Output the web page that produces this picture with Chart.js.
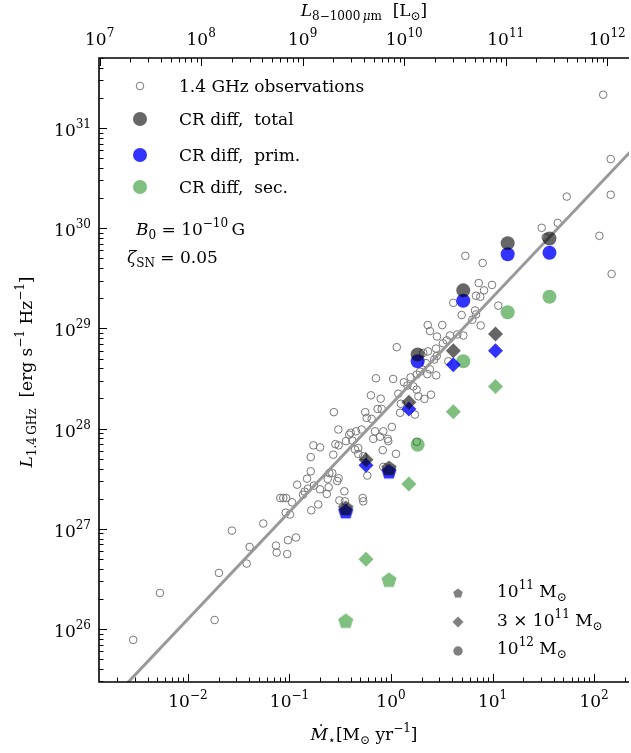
<!DOCTYPE html>
<html>
<head>
<meta charset="utf-8">
<script src="https://cdn.jsdelivr.net/npm/chart.js@4.4.1/dist/chart.umd.min.js"></script>
<style>
  html, body { margin: 0; padding: 0; background: #fff; }
  #wrap { width: 631px; height: 753px; position: relative; }
</style>
</head>
<body>
<div id="wrap"><canvas id="radioChart"></canvas></div>
<script>
// observed galaxies: SFR [Msun/yr] and L_1.4GHz [erg/s/Hz]
const obsSfr = [
  0.00289, 0.0053, 0.0183, 0.0202, 0.0271, 0.0379, 0.0405, 0.0552, 0.0736, 0.0748,
  0.0812, 0.0869, 0.0929, 0.0951, 0.0967, 0.0918, 0.101, 0.106, 0.116, 0.119,
  0.136, 0.141, 0.149, 0.152, 0.162, 0.162, 0.164, 0.172, 0.174, 0.192,
  0.200, 0.200, 0.233, 0.238, 0.243, 0.247, 0.264, 0.270, 0.274, 0.283,
  0.305, 0.303, 0.305, 0.296, 0.310, 0.347, 0.360, 0.352, 0.388, 146,
  146, 53.8, 113, 149, 30.5, 43.9, 33.4, 5.4, 8.0, 7.31,
  9.89, 8.25, 6.88, 7.58, 4.11, 11.4, 4.97, 6.72, 6.88, 6.32,
  7.65, 2.30, 3.20, 2.42, 2.84, 3.81, 4.50, 5.16, 3.54, 3.25,
  1.14, 2.78, 2.31, 2.08, 2.82, 2.67, 2.21, 3.67, 0.711, 1.05,
  1.56, 2.28, 2.79, 1.93, 2.42, 1.34, 1.45, 1.79, 1.66, 1.18,
  1.79, 1.86, 2.13, 2.48, 0.635, 0.792, 0.558, 0.576, 0.645, 0.739,
  0.810, 1.25, 1.23, 1.72, 1.02, 0.401, 0.452, 0.514, 0.696, 0.840,
  0.416, 0.669, 0.779, 0.928, 0.940, 0.442, 0.476, 0.829, 1.12, 0.476,
  0.533, 1.79, 0.584, 0.840, 0.526, 0.533, 123
];
const obsLum = [
  7.8e25, 2.29e26, 1.23e26, 3.63e26, 9.6e26, 4.5e26, 6.6e26, 1.13e27, 6.8e26, 5.8e26,
  2.03e27, 2.03e27, 2.03e27, 5.6e26, 7.7e26, 1.45e27, 1.39e27, 1.84e27, 8.2e26, 2.76e27,
  2.19e27, 2.35e27, 3.17e27, 2.52e27, 5.2e27, 3.75e27, 1.53e27, 6.8e27, 2.7e27, 1.75e27,
  6.5e27, 2.48e27, 2.23e27, 3.15e27, 2.6e27, 3.6e27, 3.6e27, 5.5e27, 1.46e28, 7.0e27,
  6.8e27, 9.8e27, 3.2e27, 3.0e27, 1.92e27, 2.37e27, 7.5e27, 1.88e27, 8.7e27, 4.9e30,
  2.16e30, 2.07e30, 8.4e29, 3.5e29, 1.01e30, 1.13e30, 8.1e29, 5.3e29, 4.5e29, 2.84e29,
  2.72e29, 2.4e29, 2.12e29, 2.07e29, 1.8e29, 1.69e29, 1.36e29, 1.51e29, 1.38e29, 1.22e29,
  1.07e29, 1.08e29, 1.08e29, 9.4e28, 8.3e28, 8.5e28, 8.7e28, 8.5e28, 7.6e28, 7.1e28,
  6.5e28, 6.3e28, 5.9e28, 5.7e28, 5.3e28, 4.9e28, 4.5e28, 4.7e28, 3.18e28, 3.13e28,
  3.25e28, 3.5e28, 3.4e28, 3.7e28, 3.9e28, 2.9e28, 2.69e28, 3.46e28, 2.64e28, 2.23e28,
  2.45e28, 2.1e28, 1.98e28, 2.18e28, 2.15e28, 1.99e28, 1.46e28, 1.28e28, 1.25e28, 1.57e28,
  1.57e28, 1.77e28, 1.44e28, 1.38e28, 1.04e28, 9.1e27, 9.4e27, 9.8e27, 9.4e27, 9.4e27,
  7.6e27, 7.9e27, 8.3e27, 7.9e27, 7.5e27, 6.2e27, 6.4e27, 6.1e27, 5.6e27, 5.6e27,
  5.3e27, 7.4e27, 3.4e27, 4.15e27, 2.03e27, 1.88e27, 2.15e31
];

// fitted relation, end points
const fitSfr = [1.0e-3, 300];
const fitLum = [1.07e25, 7.8e30];

// CR diffusion models, halo mass 1e11 (pentagons)
const sfr11 = [0.358, 0.955];
const total11 = [1.62e27, 4.06e27];
const prim11 = [1.50e27, 3.75e27];
const sec11 = [1.21e26, 3.11e26];

// halo mass 3e11 (diamonds)
const sfr3e11 = [0.567, 1.50, 4.11, 10.7];
const total3e11 = [4.9e27, 1.83e28, 6.0e28, 8.8e28];
const prim3e11 = [4.3e27, 1.57e28, 4.35e28, 6.0e28];
const sec3e11 = [4.97e26, 2.8e27, 1.47e28, 2.64e28];

// halo mass 1e12 (circles)
const sfr12 = [1.83, 5.15, 14.1, 36.4];
const total12 = [5.5e28, 2.4e29, 7.1e29, 7.9e29];
const prim12 = [4.7e28, 1.89e29, 5.5e29, 5.7e29];
const sec12 = [6.9e27, 4.7e28, 1.45e29, 2.07e29];

// axis ranges
const xMin = 1.33e-3, xMax = 221;
const yMin = 2.96e25, yMax = 5.0e31;
const lirPerSfr = 7.41e9; // L_IR [Lsun] per Msun/yr for the top axis
const xExps = [-2, -1, 0, 1, 2];
const topExps = [7, 8, 9, 10, 11, 12];
const yExps = [26, 27, 28, 29, 30, 31];

const FONT = '"DejaVu Serif"';
const totalColor = 'rgba(0,0,0,0.6)';
const primColor = 'rgba(0,0,255,0.8)';
const secColor = 'rgba(0,128,0,0.5)';

function pts(xs, ys) {
  return xs.map((x, i) => ({ x: x, y: ys[i] }));
}

function pentagon(color, r) {
  const c = document.createElement('canvas');
  const s = Math.ceil(r * 2) + 2;
  c.width = s; c.height = s;
  const g = c.getContext('2d');
  g.fillStyle = color;
  g.beginPath();
  for (let i = 0; i < 5; i++) {
    const a = -Math.PI / 2 + i * 2 * Math.PI / 5;
    g.lineTo(s / 2 + r * Math.cos(a), s / 2 + r * Math.sin(a) + r * 0.1);
  }
  g.closePath();
  g.fill();
  return c;
}

function model(xs, ys, color, shape, order) {
  let style = 'circle', radius = 7;
  if (shape === 'pent') { style = pentagon(color, 8); radius = 8; }
  if (shape === 'diam') { style = 'rectRot'; radius = 7.5; }
  return {
    data: pts(xs, ys),
    pointStyle: style,
    pointRadius: radius,
    backgroundColor: color,
    borderWidth: 0,
    borderColor: 'rgba(0,0,0,0)',
    order: order
  };
}

function font(size, italic) {
  return (italic ? 'italic ' : '') + size + 'px ' + FONT;
}

// parts: [text, size, italic, dy]
function richText(ctx, parts, x, y, align) {
  let w = 0;
  parts.forEach(p => { ctx.font = font(p[1], p[2]); w += ctx.measureText(p[0]).width; });
  let cx = align === 'center' ? x - w / 2 : (align === 'right' ? x - w : x);
  ctx.textAlign = 'left';
  ctx.textBaseline = 'alphabetic';
  parts.forEach(p => {
    ctx.font = font(p[1], p[2]);
    ctx.fillText(p[0], cx, y + (p[3] || 0));
    cx += ctx.measureText(p[0]).width;
  });
}

function pow10(e) {
  return [['10', 17], [(e < 0 ? '\u2212' + (-e) : String(e)), 12, false, -8]];
}

function logTicks(scale) {
  const out = [];
  const lo = Math.floor(Math.log10(scale.min)), hi = Math.ceil(Math.log10(scale.max));
  for (let e = lo; e <= hi; e++) {
    for (let m = 1; m <= 9; m++) {
      const v = m * Math.pow(10, e);
      if (v >= scale.min && v <= scale.max) out.push({ v: v, major: m === 1 });
    }
  }
  return out;
}

const axisDecor = {
  id: 'axisDecor',
  afterDraw(chart) {
    const ctx = chart.ctx, a = chart.chartArea, sx = chart.scales.x, sx2 = chart.scales.x2, sy = chart.scales.y;
    ctx.save();
    ctx.strokeStyle = '#000';
    ctx.fillStyle = '#000';

    // ticks, pointing inwards
    ctx.lineWidth = 1;
    ctx.beginPath();
    logTicks(sx).forEach(t => {
      const p = Math.round(sx.getPixelForValue(t.v)) + 0.5;
      ctx.moveTo(p, a.bottom); ctx.lineTo(p, a.bottom - (t.major ? 8 : 4.5));
    });
    logTicks(sx2).forEach(t => {
      const p = Math.round(sx2.getPixelForValue(t.v)) + 0.5;
      ctx.moveTo(p, a.top); ctx.lineTo(p, a.top + (t.major ? 8 : 4.5));
    });
    logTicks(sy).forEach(t => {
      const p = Math.round(sy.getPixelForValue(t.v)) + 0.5;
      ctx.moveTo(a.left, p); ctx.lineTo(a.left + (t.major ? 8 : 4.5), p);
    });
    ctx.stroke();

    // frame
    ctx.lineWidth = 1.6;
    ctx.beginPath();
    ctx.moveTo(a.right, a.top);
    ctx.lineTo(a.left, a.top);
    ctx.lineTo(a.left, a.bottom);
    ctx.lineTo(a.right, a.bottom);
    ctx.stroke();

    // tick labels
    xExps.forEach(e => richText(ctx, pow10(e), sx.getPixelForValue(Math.pow(10, e)), a.bottom + 25, 'center'));
    topExps.forEach(e => richText(ctx, pow10(e), sx2.getPixelForValue(Math.pow(10, e)), a.top - 13, 'center'));
    yExps.forEach(e => richText(ctx, pow10(e), a.left - 8, sy.getPixelForValue(Math.pow(10, e)) + 8, 'right'));

    // axis titles
    richText(ctx, [['\u1E40', 17, true], ['\u22C6', 12, false, 4], ['[M', 17], ['\u2299', 12, false, 4],
      [' yr', 17], ['\u22121', 12, false, -8], [']', 17]], (a.left + a.right) / 2, 740, 'center');
    richText(ctx, [['L', 17, true], ['8\u22121000\u2009', 12, false, 4], ['\u03BC', 12, true, 4], ['m', 12, false, 4],
      ['  [L', 17], ['\u2299', 12, false, 4], [']', 17]], (a.left + a.right) / 2, 16, 'center');
    ctx.save();
    ctx.translate(32, 372);
    ctx.rotate(-Math.PI / 2);
    richText(ctx, [['L', 17, true], ['1.4\u2009GHz', 12, false, 4], ['  [erg s', 17], ['\u22121', 12, false, -8],
      [' Hz', 17], ['\u22121', 12, false, -8], [']', 17]], 0, 0, 'center');
    ctx.restore();

    // legend, upper left
    const lx = 140, tx = 179;
    const rows = [86, 119, 155, 187];
    ctx.lineWidth = 1;
    ctx.strokeStyle = '#777';
    ctx.beginPath(); ctx.arc(lx, rows[0], 3.8, 0, 2 * Math.PI); ctx.stroke();
    [[totalColor, rows[1]], [primColor, rows[2]], [secColor, rows[3]]].forEach(r => {
      ctx.fillStyle = r[0];
      ctx.beginPath(); ctx.arc(lx, r[1], 7, 0, 2 * Math.PI); ctx.fill();
    });
    ctx.fillStyle = '#000';
    richText(ctx, [['1.4 GHz observations', 17]], tx, rows[0] + 6, 'left');
    richText(ctx, [['CR diff,  total', 17]], tx, rows[1] + 6, 'left');
    richText(ctx, [['CR diff,  prim.', 17]], tx, rows[2] + 6, 'left');
    richText(ctx, [['CR diff,  sec.', 17]], tx, rows[3] + 6, 'left');

    richText(ctx, [['B', 17, true], ['0', 12, false, 4], [' = 10', 17], ['\u221210', 12, false, -8], ['\u2009G', 17]], 136, 235, 'left');
    richText(ctx, [['\u03B6', 17, true], ['SN', 12, false, 4], [' = 0.05', 17]], 127, 263, 'left');

    // legend, lower right (halo masses)
    const mx = 458, mtx = 497;
    ctx.fillStyle = '#808080';
    ctx.drawImage(pentagon('#808080', 5), mx - 6, 593 - 6);
    ctx.beginPath();
    ctx.moveTo(mx, 622 - 5.5); ctx.lineTo(mx + 5.5, 622); ctx.lineTo(mx, 622 + 5.5); ctx.lineTo(mx - 5.5, 622);
    ctx.closePath(); ctx.fill();
    ctx.beginPath(); ctx.arc(mx, 651, 4.7, 0, 2 * Math.PI); ctx.fill();
    ctx.fillStyle = '#000';
    richText(ctx, [['10', 17], ['11', 12, false, -8], [' M', 17], ['\u2299', 12, false, 4]], mtx, 597, 'left');
    richText(ctx, [['3 \u00D7 10', 17], ['11', 12, false, -8], [' M', 17], ['\u2299', 12, false, 4]], mtx, 626, 'left');
    richText(ctx, [['10', 17], ['12', 12, false, -8], [' M', 17], ['\u2299', 12, false, 4]], mtx, 654, 'left');

    ctx.restore();
  }
};

function createChart() {
  const el = document.getElementById('radioChart');
  new Chart(el, {
    type: 'scatter',
    data: {
      datasets: [
        model(sfr11, total11, totalColor, 'pent', 1),
        model(sfr3e11, total3e11, totalColor, 'diam', 1),
        model(sfr12, total12, totalColor, 'circ', 1),
        model(sfr11, prim11, primColor, 'pent', 2),
        model(sfr3e11, prim3e11, primColor, 'diam', 2),
        model(sfr12, prim12, primColor, 'circ', 2),
        model(sfr11, sec11, secColor, 'pent', 3),
        model(sfr3e11, sec3e11, secColor, 'diam', 3),
        model(sfr12, sec12, secColor, 'circ', 3),
        {
          type: 'line',
          data: pts(fitSfr, fitLum),
          borderColor: '#999999',
          borderWidth: 3,
          pointRadius: 0,
          fill: false,
          clip: 0,
          order: 4
        },
        {
          data: pts(obsSfr, obsLum),
          pointStyle: 'circle',
          pointRadius: 3.8,
          borderWidth: 1,
          borderColor: '#777777',
          backgroundColor: 'rgba(0,0,0,0)',
          order: 5
        }
      ]
    },
    options: {
      responsive: true,
      maintainAspectRatio: false,
      animation: false,
      layout: { autoPadding: false, padding: { left: 99, right: 2, top: 58, bottom: 71 } },
      plugins: { legend: { display: false }, tooltip: { enabled: false } },
      scales: {
        x: { type: 'logarithmic', min: xMin, max: xMax, display: false },
        x2: { type: 'logarithmic', position: 'top', min: xMin * lirPerSfr, max: xMax * lirPerSfr, display: false },
        y: { type: 'logarithmic', min: yMin, max: yMax, display: false }
      }
    },
    plugins: [axisDecor]
  });
}

document.addEventListener('DOMContentLoaded', createChart);
</script>
</body>
</html>
